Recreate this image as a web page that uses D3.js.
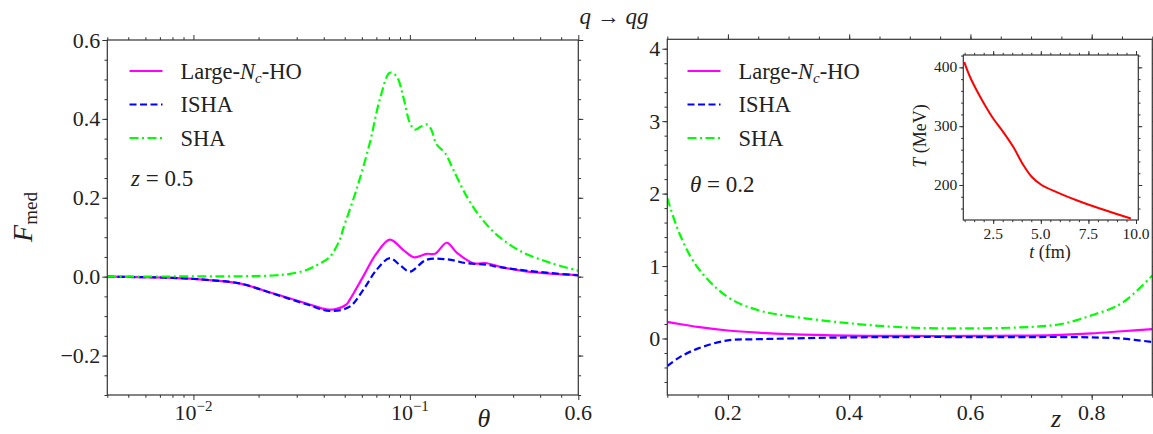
<!DOCTYPE html>
<html><head><meta charset="utf-8">
<script src="https://cdn.jsdelivr.net/npm/d3@7"></script>
<style>body{margin:0;background:#fff}svg{display:block}</style>
</head><body><svg id="c" width="1153" height="434" font-family="'Liberation Serif', 'Times New Roman', 'DejaVu Serif', serif"></svg>
<script>
// ---------- data ----------
const legendLabels = ["Large-N_c-HO", "ISHA", "SHA"];
const seriesColors = ["#ff00ff", "#0000ff", "#00ff00"];
// left panel (theta, log axis), z = 0.5
const thetaHO = [0.004,0.008,0.01145,0.0163,0.0233,0.0333,0.0412,0.0455,0.051,0.0527,0.0608,0.0701,0.0808,0.0931,0.1045,0.1195,0.1306,0.148,0.1646,0.1965,0.2268,0.2614,0.35,0.6];
const fHO     = [0,-0.003,-0.008,-0.017,-0.042,-0.068,-0.083,-0.082,-0.07,-0.059,0.0,0.059,0.094,0.068,0.049,0.058,0.058,0.086,0.061,0.034,0.034,0.025,0.013,0.004];
const thetaISHA = [0.004,0.008,0.01145,0.0163,0.0233,0.0333,0.0426,0.0527,0.0608,0.0701,0.0808,0.0897,0.1,0.1195,0.148,0.1832,0.2268,0.2614,0.35,0.6];
const fISHA     = [0,-0.003,-0.008,-0.017,-0.043,-0.07,-0.087,-0.076,-0.034,0.017,0.047,0.03,0.013,0.043,0.044,0.034,0.03,0.024,0.015,0.003];
const thetaSHA = [0.004,0.008,0.0163,0.0233,0.0279,0.0333,0.0383,0.0426,0.0474,0.0491,0.0566,0.0653,0.0726,0.0808,0.0868,0.0931,0.1,0.1055,0.112,0.1195,0.125,0.133,0.1453,0.1588,0.1832,0.2111,0.2523,0.3236,0.4457,0.6];
const fSHA     = [0,0.0005,0.001,0.003,0.007,0.017,0.033,0.05,0.093,0.12,0.22,0.339,0.449,0.517,0.508,0.457,0.39,0.373,0.38,0.386,0.375,0.335,0.314,0.271,0.203,0.152,0.106,0.065,0.035,0.015];
// right panel (z), theta = 0.2
const zR     = [0.1,0.12,0.15,0.2,0.25,0.3,0.4,0.5,0.6,0.7,0.75,0.8,0.85,0.9];
const fHOR   = [0.23,0.2,0.16,0.11,0.08,0.06,0.04,0.035,0.035,0.04,0.05,0.07,0.1,0.13];
const fISHAR = [-0.38,-0.26,-0.14,-0.025,-0.01,0.0,0.015,0.02,0.02,0.02,0.02,0.015,0.0,-0.05];
const fSHAR  = [1.94,1.45,0.98,0.57,0.39,0.31,0.21,0.15,0.14,0.16,0.2,0.32,0.49,0.87];
// inset: temperature profile
const tInset = [0.98,1.28,1.63,2.06,2.5,3.03,3.55,4.08,4.52,5.04,5.83,6.88,8.1,9.73];
const TInset = [409,384,361,336,313,290,265,234,214,200,188,174,160,143];
// ticks
const thetaMajor = [0.01,0.1,0.6];
const thetaMinor = [0.004,0.005,0.006,0.007,0.008,0.009,0.02,0.03,0.04,0.05,0.06,0.07,0.08,0.09,0.2,0.3,0.4,0.5];
const yLMajor = [-0.2,0,0.2,0.4,0.6];
const zMajor = [0.2,0.4,0.6,0.8];
const yRMajor = [0,1,2,3,4];
const tMajor = [2.5,5.0,7.5,10.0];
const TMajor = [200,300,400];

// ---------- helpers ----------
const svg = d3.select("#c");
const FONT = "'Liberation Serif', 'Times New Roman', 'DejaVu Serif', serif";
const frameColor = "#333";
const txt = (g) => g.append("text").attr("font-family",FONT).attr("fill","#222");
function frame(g, x0, y0, w, h){
  g.append("rect").attr("x",x0).attr("y",y0).attr("width",w).attr("height",h)
   .attr("fill","none").attr("stroke",frameColor).attr("stroke-width",1.2);
}
function ticks(g, xs, ys, xMaj, xMin, yMaj, yMin, L, l){
  const [x0,x1] = xs.range(), [y1,y0] = ys.range();
  const add = (ax, vals, size, tr) => g.append("g").attr("transform",tr)
     .call(ax.tickValues(vals).tickSize(size).tickSizeOuter(0).tickFormat(""))
     .call(s=>{s.select(".domain").remove(); s.selectAll("line").attr("stroke",frameColor);});
  add(d3.axisBottom(xs), xMaj, L, `translate(0,${y1})`);
  add(d3.axisBottom(xs), xMin, l, `translate(0,${y1})`);
  add(d3.axisTop(xs), xMaj, L, `translate(0,${y0})`);
  add(d3.axisTop(xs), xMin, l, `translate(0,${y0})`);
  add(d3.axisLeft(ys), yMaj, L, `translate(${x0},0)`);
  add(d3.axisLeft(ys), yMin, l, `translate(${x0},0)`);
  add(d3.axisRight(ys), yMaj, L, `translate(${x1},0)`);
  add(d3.axisRight(ys), yMin, l, `translate(${x1},0)`);
}
function range(a,b,s){const r=[];for(let v=a;v<=b+1e-9;v+=s)r.push(+v.toFixed(6));return r;}
const styles = [
  {dash:null},
  {dash:"7,3.5"},
  {dash:"9,3.5,2,3.5"}
];
function drawLine(g, xs, ys, X, Y, i, clip){
  const line = d3.line().x((d,k)=>xs(X[k])).y((d,k)=>ys(Y[k])).curve(d3.curveCatmullRom.alpha(0.5));
  g.append("path").datum(Y).attr("d",line).attr("fill","none")
   .attr("stroke",seriesColors[i]).attr("stroke-width",2.2)
   .attr("stroke-dasharray",styles[i].dash).attr("clip-path",clip);
}
function legend(g, x, y0){
  legendLabels.forEach((lab,i)=>{
    const y = y0 + i*33.5;
    g.append("line").attr("x1",x).attr("x2",x+33).attr("y1",y).attr("y2",y)
     .attr("stroke",seriesColors[i]).attr("stroke-width",2.2).attr("stroke-dasharray",styles[i].dash);
    const t = txt(g).attr("x",x+51).attr("y",y+7.5).attr("font-size",22.5);
    if(i===0){
      t.append("tspan").text("Large-");
      t.append("tspan").attr("font-style","italic").text("N");
      t.append("tspan").attr("font-style","italic").attr("font-size",15).attr("dy",4).text("c");
      t.append("tspan").attr("dy",-4).text("-HO");
    } else t.text(lab);
  });
}

// ---------- left panel ----------
const L = {x0:107.3, x1:578.3, y0:40, y1:395};
const xL = d3.scaleLog().domain([0.004,0.6]).range([L.x0,L.x1]);
const yL = d3.scaleLinear().domain([-0.3,0.6]).range([L.y1,L.y0]);
const gL = svg.append("g");
svg.append("defs").html(`<clipPath id="cl"><rect x="${L.x0}" y="${L.y0}" width="${L.x1-L.x0}" height="${L.y1-L.y0}"/></clipPath>
<clipPath id="cr"><rect x="667.3" y="39.3" width="485" height="356"/></clipPath>
<clipPath id="ci"><rect x="963.3" y="55" width="175" height="165"/></clipPath>`);
ticks(gL, xL, yL, thetaMajor, thetaMinor, yLMajor, range(-0.3,0.6,0.05), 5, 2.8);
drawLine(gL, xL, yL, thetaHO, fHO, 0, "url(#cl)");
drawLine(gL, xL, yL, thetaISHA, fISHA, 1, "url(#cl)");
drawLine(gL, xL, yL, thetaSHA, fSHA, 2, "url(#cl)");
frame(gL, L.x0, L.y0, L.x1-L.x0, L.y1-L.y0);
yLMajor.forEach(v=>txt(gL).attr("x",L.x0-7).attr("y",yL(v)+7.5).attr("text-anchor","end").attr("font-size",22)
  .text(v<0?"\u2212"+Math.abs(v).toFixed(1):v.toFixed(1)));
thetaMajor.forEach(v=>{
  const t = txt(gL).attr("x",xL(v)).attr("y",420).attr("text-anchor","middle").attr("font-size",22);
  if(v===0.6){ t.text("0.6"); }
  else { t.append("tspan").text("10"); t.append("tspan").attr("font-size",15).attr("dy",-9).text("\u2212"+Math.round(-Math.log10(v))); }
});
legend(gL, 129.5, 71);
txt(gL).attr("x",131).attr("y",186).attr("font-size",23)
  .call(t=>{t.append("tspan").attr("font-style","italic").text("z"); t.append("tspan").text(" = 0.5");});
txt(gL).attr("x",484).attr("y",427).attr("text-anchor","middle").attr("font-size",26).attr("font-style","italic").text("\u03b8");
txt(gL).attr("transform","translate(32,217) rotate(-90)").attr("text-anchor","middle").attr("font-size",28)
  .call(t=>{t.append("tspan").attr("font-style","italic").text("F"); t.append("tspan").attr("font-size",19).attr("dy",5).text("med");});

// ---------- right panel ----------
const R = {x0:667.3, x1:1152.3, y0:39.3, y1:395};
const xR = d3.scaleLinear().domain([0.1,0.9]).range([R.x0,R.x1]);
const yR = d3.scaleLinear().domain([-0.78,4.13]).range([R.y1,R.y0]);
const gR = svg.append("g");
ticks(gR, xR, yR, zMajor, range(0.1,0.9,0.05), yRMajor, range(-0.6,4.0,0.2), 5, 2.8);
drawLine(gR, xR, yR, zR, fHOR, 0, "url(#cr)");
drawLine(gR, xR, yR, zR, fISHAR, 1, "url(#cr)");
drawLine(gR, xR, yR, zR, fSHAR, 2, "url(#cr)");
frame(gR, R.x0, R.y0, R.x1-R.x0, R.y1-R.y0);
yRMajor.forEach(v=>txt(gR).attr("x",R.x0-7).attr("y",yR(v)+7.5).attr("text-anchor","end").attr("font-size",22).text(v));
zMajor.forEach(v=>txt(gR).attr("x",xR(v)).attr("y",420).attr("text-anchor","middle").attr("font-size",22).text(v.toFixed(1)));
legend(gR, 687.5, 71);
txt(gR).attr("x",690).attr("y",192).attr("font-size",23)
  .call(t=>{t.append("tspan").attr("font-style","italic").text("\u03b8"); t.append("tspan").text(" = 0.2");});
txt(gR).attr("x",1056).attr("y",427).attr("text-anchor","middle").attr("font-size",26).attr("font-style","italic").text("z");

// ---------- inset ----------
const I = {x0:963.3, x1:1138.3, y0:55, y1:220};
const xI = d3.scaleLinear().domain([0.93,10.12]).range([I.x0,I.x1]);
const yI = d3.scaleLinear().domain([140.5,421]).range([I.y1,I.y0]);
const gI = svg.append("g");
gI.append("rect").attr("x",I.x0).attr("y",I.y0).attr("width",I.x1-I.x0).attr("height",I.y1-I.y0).attr("fill","#fff");
ticks(gI, xI, yI, tMajor, range(1.0,10.0,0.5), TMajor, range(160,420,20), 4, 2.2);
gI.append("path").datum(TInset).attr("d",d3.line().x((d,k)=>xI(tInset[k])).y(d=>yI(d)).curve(d3.curveCatmullRom.alpha(0.5)))
  .attr("fill","none").attr("stroke","#ff0000").attr("stroke-width",2).attr("clip-path","url(#ci)");
frame(gI, I.x0, I.y0, I.x1-I.x0, I.y1-I.y0);
TMajor.forEach(v=>txt(gI).attr("x",I.x0-6).attr("y",yI(v)+5).attr("text-anchor","end").attr("font-size",15.5).text(v));
tMajor.forEach(v=>txt(gI).attr("x",xI(v)).attr("y",239).attr("text-anchor","middle").attr("font-size",15.5).text(v.toFixed(1)));
txt(gI).attr("x",1050).attr("y",258).attr("text-anchor","middle").attr("font-size",18)
  .call(t=>{t.append("tspan").attr("font-style","italic").text("t"); t.append("tspan").text(" (fm)");});
txt(gI).attr("transform","translate(926,136) rotate(-90)").attr("text-anchor","middle").attr("font-size",18)
  .call(t=>{t.append("tspan").attr("font-style","italic").text("T"); t.append("tspan").text(" (MeV)");});

// ---------- title ----------
txt(svg).attr("x",614).attr("y",24).attr("text-anchor","middle").attr("font-size",23)
  .call(t=>{t.append("tspan").attr("font-style","italic").text("q"); t.append("tspan").text(" \u2192 "); t.append("tspan").attr("font-style","italic").text("qg");});
</script></body></html>
